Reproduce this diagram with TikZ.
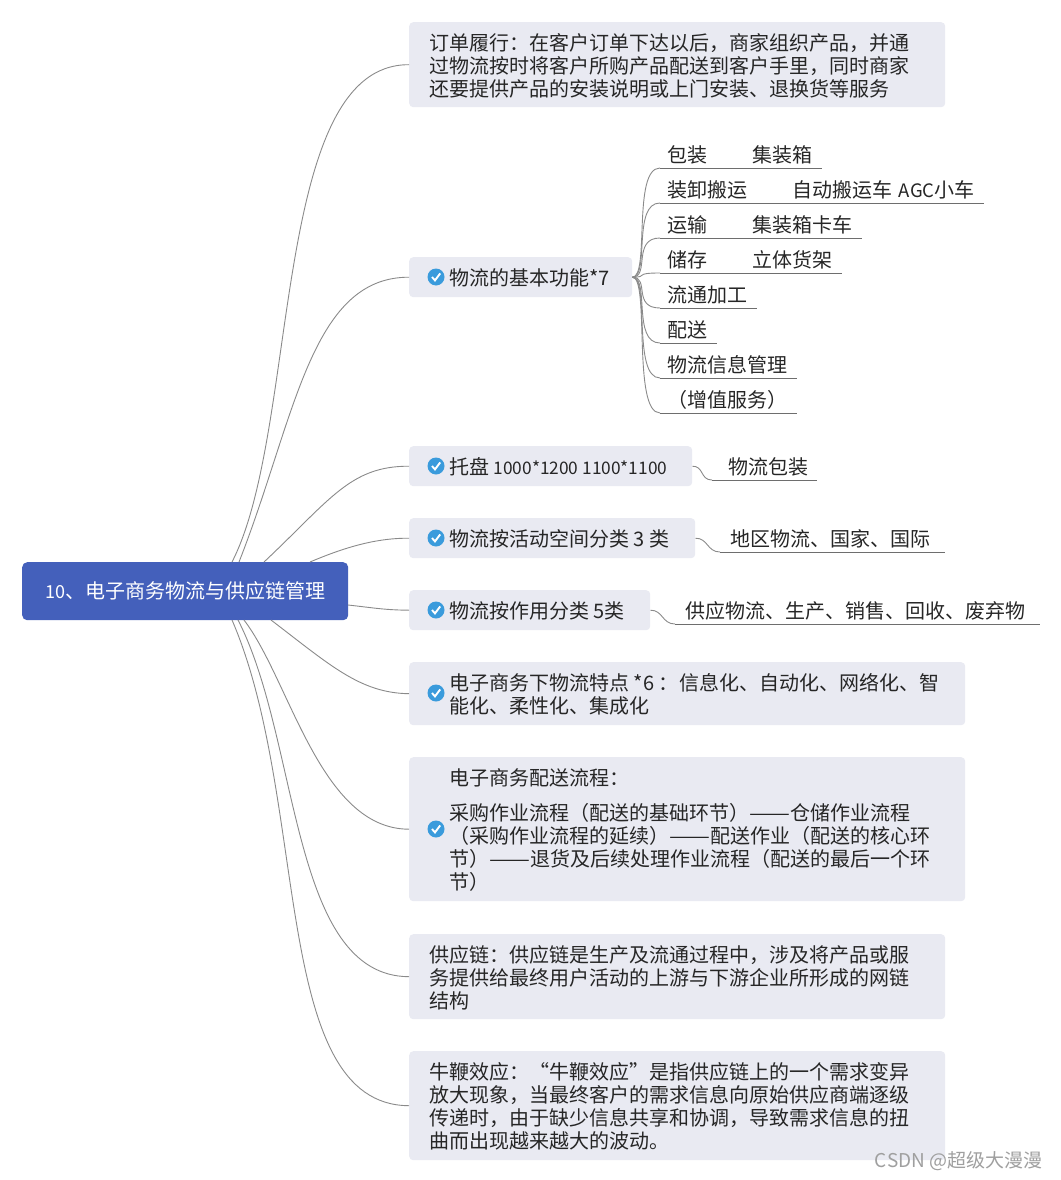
\documentclass[tikz,border=0pt]{standalone}
\usepackage{graphicx}
\usepackage{fontspec}
\setmainfont[RawFeature={-kern}]{Noto Sans CJK SC}
\usetikzlibrary{calc}
\definecolor{panelc}{HTML}{E9EAF2}
\definecolor{rootc}{HTML}{4460BB}
\definecolor{linkc}{HTML}{8A8A8A}
\definecolor{inkc}{HTML}{262626}
\definecolor{tickc}{HTML}{3A9BDC}
\tikzset{
  panel/.style={fill=panelc,rounded corners=4pt,inner sep=0pt,anchor=north west,text=inkc,font=\fontsize{20}{23}\selectfont},
  rootbox/.style={fill=rootc,rounded corners=5pt,inner sep=0pt,anchor=north west,text=white,font=\fontsize{20}{23}\selectfont,minimum width=326pt,minimum height=58pt},
  link/.style={draw=linkc,line width=0.9pt},
  leafline/.style={draw=linkc!80!black,line width=0.9pt},
  leaf/.style={inner sep=0pt,anchor=south west,text=inkc,text depth=5pt,font=\fontsize{20}{23}\selectfont,align=left},
  tickicon/.style={circle,fill=tickc,minimum size=17pt,inner sep=0pt,
    path picture={\draw[white,line width=1.9pt] ($(path picture bounding box.center)+(-4,0)$) -- ++(3,3.4) -- ++(5.2,-7);}},
  mark text/.style={text=gray!75,font=\fontsize{19}{22}\selectfont}
}
\newcommand\longdash{\scalebox{1.22}[1]{——}}
% name, x, y, w, h, inset, text
\newcommand\pbox[7]{\node[panel,minimum width=#4pt,minimum height=#5pt] (#1) at (#2,#3)
  {\hspace*{#6pt}\parbox{\dimexpr#4pt-#6pt\relax}{\vspace*{2pt}\raggedright\fontsize{20}{23}\selectfont #7}};}
% name, x start, x end, y bottom, inset, text
\newcommand\leafn[6]{\node[leaf,text width=\dimexpr#3pt-#2pt\relax] (#1) at (#2,#4) {\hspace*{#5pt}#6};
  \draw[leafline] (#1.south west) -- (#1.south east);}
\begin{document}
\begin{tikzpicture}[x=1pt,y=-1pt]
\useasboundingbox (0,0) rectangle (1060,1180);

\node[rootbox] (root) at (22,562) {{\fontsize{18}{23}\selectfont 10}、电子商务物流与供应链管理};

\pbox{b1}{409}{22}{536}{85}{20}{订单履行：在客户订单下达以后，商家组织产品，并通\\过物流按时将客户所购产品配送到客户手里，同时商家\\还要提供产品的安装说明或上门安装、退换货等服务}
\pbox{b2}{409}{257}{223}{40}{40}{物流的基本功能*7}
\pbox{b3}{409}{446}{283}{40}{40}{\mbox{托盘 {\fontsize{17.3}{23}\selectfont 1000*1200 1100*1100}}}
\pbox{b4}{409}{518}{286}{40}{40}{物流按活动空间分类 3 类}
\pbox{b5}{409}{590}{241}{40}{40}{物流按作用分类 5类}
\pbox{b6}{409}{662}{556}{63}{40}{电子商务下物流特点 *6 ：\hspace{1pt}信息化、自动化、网络化、智\\能化、柔性化、集成化}
\pbox{b7}{409}{757}{556}{144}{40}{电子商务配送流程：\\[12pt]采购作业流程（配送的基础环节）\longdash 仓储作业流程\\（采购作业流程的延续）\longdash 配送作业（配送的核心环\\节）\longdash 退货及后续处理作业流程（配送的最后一个环\\节）}
\pbox{b8}{409}{934}{536}{85}{20}{供应链：供应链是生产及流通过程中，涉及将产品或服\\务提供给最终用户活动的上游与下游企业所形成的网链\\结构}
\pbox{b9}{409}{1051}{536}{109}{20}{牛鞭效应：“牛鞭效应”是指供应链上的一个需求变异\\放大现象，当最终客户的需求信息向原始供应商端逐级\\传递时，由于缺少信息共享和协调，导致需求信息的扭\\曲而出现越来越大的波动。}

\node[tickicon] (i2) at (436,277) {};
\node[tickicon] (i3) at (436,466) {};
\node[tickicon] (i4) at (436,538) {};
\node[tickicon] (i5) at (436,610) {};
\node[tickicon] (i6) at (436,693) {};
\node[tickicon] (i7) at (436,829) {};

\coordinate (r1) at (232,562);
\coordinate (r2) at (239,562);
\coordinate (r3) at (264,562);
\coordinate (r4) at (310,562);
\coordinate (r5) at (348,605);
\coordinate (r6) at (271,620);
\coordinate (r7) at (244,620);
\coordinate (r8) at (238,620);
\coordinate (r9) at (232,620);

\draw[link] (r1) .. controls (300,430) and (270,64) .. (b1.west);
\draw[link] (r2) .. controls (295,420) and (310,277) .. (b2.west);
\draw[link] (r3) .. controls (330,500) and (350,466) .. (b3.west);
\draw[link] (r4) .. controls (350,545) and (380,538) .. (b4.west);
\draw[link] (r5) .. controls (375,608) and (385,610) .. (b5.west);
\draw[link] (r6) .. controls (330,665) and (360,693) .. (b6.west);
\draw[link] (r7) .. controls (290,680) and (320,829) .. (b7.west);
\draw[link] (r8) .. controls (300,740) and (290,976) .. (b8.west);
\draw[link] (r9) .. controls (310,800) and (270,1105) .. (b9.west);

\leafn{s1}{660}{822}{168}{7}{包装\hspace{45pt}集装箱}
\leafn{s2}{660}{984}{203}{7}{装卸搬运\hspace{45pt}自动搬运车 {\fontsize{18.5}{23}\selectfont AGC}小车}
\leafn{s3}{660}{862}{238}{7}{运输\hspace{45pt}集装箱卡车}
\leafn{s4}{660}{842}{273}{7}{储存\hspace{45pt}立体货架}
\leafn{s5}{660}{757}{308}{7}{流通加工}
\leafn{s6}{660}{717}{343}{7}{配送}
\leafn{s7}{660}{797}{378}{7}{物流信息管理}
\leafn{s8}{660}{797}{413}{7}{（增值服务）}
\foreach \n/\yy in {s1/168,s2/203,s3/238,s4/273,s5/308,s6/343,s7/378,s8/413} {
  \draw[link] (b2.east) .. controls (650,277) and (632,\yy) .. (\n.south west);
}

\leafn{t3}{712}{817}{480}{16}{物流包装}
\leafn{t4}{720}{945}{552}{10}{地区物流、国家、国际}
\leafn{t5}{675}{1040}{624}{10}{供应物流、生产、销售、回收、废弃物}
\draw[link] (b3.east) .. controls (704,466) and (700,480) .. (t3.south west);
\draw[link] (b4.east) .. controls (708,538) and (707,552) .. (t4.south west);
\draw[link] (b5.east) .. controls (663,610) and (662,624) .. (t5.south west);

\node[mark text,anchor=east] (wm) at (1046,1161) {CSDN @超级大漫漫};
\end{tikzpicture}
\end{document}
